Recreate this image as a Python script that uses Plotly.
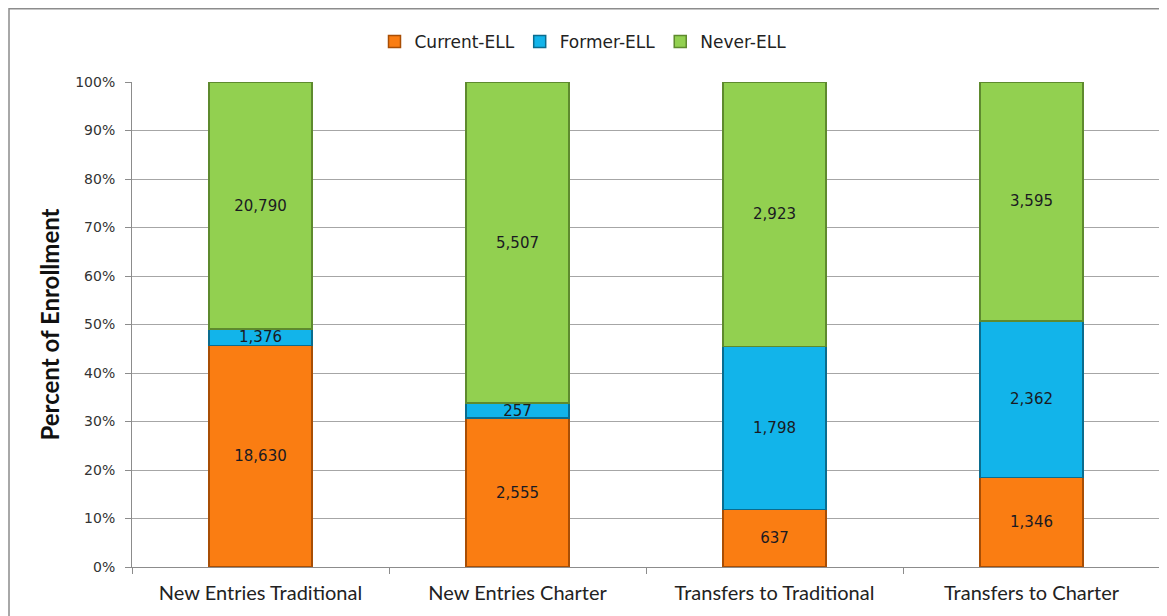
import plotly.graph_objects as go

categories = ["New Entries Traditional", "New Entries Charter", "Transfers to Traditional", "Transfers to Charter"]
current_ell = [18630, 2555, 637, 1346]
former_ell = [1376, 257, 1798, 2362]
never_ell = [20790, 5507, 2923, 3595]
y_ticks = [0, 10, 20, 30, 40, 50, 60, 70, 80, 90, 100]
y_tick_labels = [f"{v}%" for v in y_ticks]

series = [
    ("Current-ELL", current_ell, "#FA7D12", "#A84E05"),
    ("Former-ELL", former_ell, "#12B4EA", "#0A6C8E"),
    ("Never-ELL", never_ell, "#92D050", "#5E8A2E"),
]

fig = go.Figure()
for name, vals, col, edge in series:
    fig.add_trace(go.Bar(
        name=name, x=categories, y=vals,
        text=[f"{v:,}" for v in vals], textposition="inside",
        insidetextanchor="middle", textangle=0, constraintext="none",
        textfont=dict(family="DejaVu Sans", size=15, color="#1a1a22"),
        marker=dict(color=col, line=dict(color=edge, width=1.5)),
        width=0.40,
    ))

# page has 8px body margin; figure sits at (8, 8)
W, H = 1159, 608
L, R, T, B = 124, 7, 74, 49
pw, ph = W - L - R, H - T - B

fig.update_layout(
    barmode="stack", barnorm="percent",
    width=W, height=H,
    margin=dict(l=L, r=R, t=T, b=B),
    paper_bgcolor="white", plot_bgcolor="white",
    uniformtext=dict(minsize=15, mode="show"),
    legend=dict(orientation="h", x=(575 - L) / pw, xanchor="center",
                y=(H - B - 34) / ph, yanchor="middle",
                font=dict(family="DejaVu Sans", size=17, color="#222"),
                itemwidth=30, traceorder="normal"),
    yaxis=dict(range=[0, 100], tickvals=y_ticks, ticktext=y_tick_labels,
               showgrid=True, gridcolor="#A6A6A6", gridwidth=1,
               showline=True, linecolor="#8C8C8C", linewidth=1,
               ticks="outside", ticklen=6, tickcolor="#8C8C8C",
               ticklabelstandoff=7,
               tickfont=dict(family="DejaVu Sans", size=14, color="#333"),
               title=dict(text="Percent of Enrollment", standoff=8,
                          font=dict(family="Lato", size=24, weight="bold", color="#111")),
               zeroline=False),
    xaxis=dict(showline=True, linecolor="#8C8C8C", linewidth=1,
               ticks="outside", tickson="boundaries", ticklen=6, tickcolor="#8C8C8C",
               ticklabelstandoff=8,
               tickfont=dict(family="Lato", size=20, color="#222")),
    shapes=[dict(type="rect", xref="paper", yref="paper",
                 x0=(1 - L) / pw, x1=1.05, y0=-0.2, y1=1 + (T - 0.75) / ph,
                 line=dict(color="#8C8C8C", width=1.5), layer="below")],
)

fig.write_html("out.html")
